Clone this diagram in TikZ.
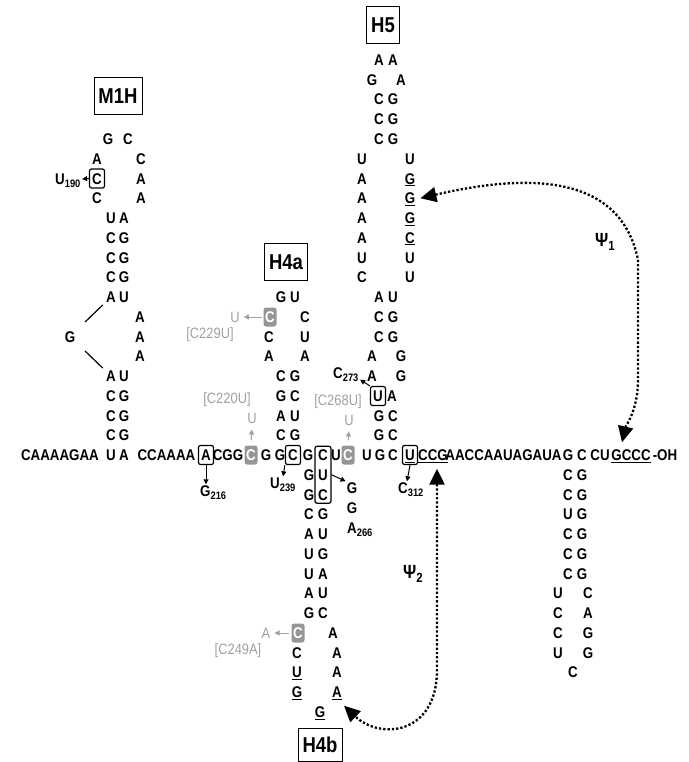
\documentclass[tikz,border=0pt]{standalone}
\usepackage{fontspec}
\setmainfont{Liberation Sans}[FakeStretch=0.86]
\usepackage{xcolor}
\usetikzlibrary{arrows.meta,fit}
\definecolor{mutgray}{RGB}{160,160,160}
\definecolor{boxgray}{RGB}{150,150,150}
\newcommand{\unt}[1]{\setbox0=\hbox{#1}\rlap{\rule[-2.2pt]{\wd0}{1.2pt}}\box0}

\begin{document}
\begin{tikzpicture}[x=1pt, y=-1pt,
  nt/.style={font=\bfseries\fontsize{15.5}{16}\selectfont, inner sep=1pt, text height=11pt, text depth=0pt},
  ntbox/.style={nt, draw, rounded corners=2pt, line width=1.2pt, minimum width=15pt, minimum height=19pt, inner sep=0pt},
  ntgray/.style={nt, fill=boxgray, text=white, rounded corners=2.5pt, minimum width=13pt, minimum height=19pt, inner sep=0pt},
  mut/.style={font=\fontsize{15}{16}\selectfont, text=mutgray, inner sep=1pt, text height=10.6pt, text depth=0pt},
  helix/.style={draw, line width=0.8pt, font=\bfseries\fontsize{21.5}{22}\selectfont, text height=15pt, text depth=0pt, minimum height=37pt, inner xsep=4.5pt},
  psilab/.style={font=\bfseries\fontsize{19}{20}\selectfont, inner sep=1pt},
  pt/.style={-{Triangle[length=5pt,width=5pt]}, line width=1pt},
  ptgray/.style={pt, draw=mutgray, fill=mutgray},
  psi/.style={line width=2.3pt, dash pattern=on 2.3pt off 2pt, {Triangle[length=16pt,width=15pt]}-{Triangle[length=16pt,width=15pt]}}]
  \useasboundingbox (0,0) rectangle (688,762);

  % helix labels
  \node[helix] (lm1h) at (118,96) {M1H};
  \node[helix] (lh4a) at (286,262) {H4a};
  \node[helix] (lh5) at (383,25) {H5};
  \node[helix, minimum height=33pt] (lh4b) at (320,744.5) {H4b};

  % main strand
  \node[nt] (tail5) at (60,455) {CAAAAGAA};
  \node[nt] (m1l0) at (111,455) {U};
  \node[nt] (m1r0) at (124,455) {A};
  \node[nt] (j1) at (166.5,455) {CCAAAA};
  \node[ntbox] (a216) at (206,455) {A};
  \node[nt] (j2) at (228,455) {CGG};
  \node[ntgray] (c220) at (251,455) {C};
  \node[nt] (j3) at (266,455) {G};
  \node[nt] (h4al0) at (280,455) {G};
  \node[ntbox] (c239) at (293,455) {C};
  \node[nt] (h4bl0) at (308,455) {G};
  \node[nt] (h4br0) at (323,455) {C};
  \node[nt] (j4) at (336,455) {U};
  \node[ntgray] (c268) at (348,455) {C};
  \node[nt] (j5) at (367,455) {U};
  \node[nt] (h5l0) at (380,455) {G};
  \node[nt] (h5r0) at (393,455) {C};
  \node[ntbox] (u312) at (410,455) {\unt{U}};
  \node[nt] (ccg) at (433,455) {\unt{CCG}};
  \node[nt] (j6) at (503.5,455) {AACCAAUAGAUA};
  \node[nt] (stl0) at (568,455) {G};
  \node[nt] (str0) at (582,455) {C};
  \node[nt] (j7) at (600,455) {CU};
  \node[nt] (gccc) at (631,455) {\unt{GCCC}};
  \node[nt] (oh) at (665,455) {-OH};

  % M1H
  \foreach \k/\a/\b in {1/C/G,2/C/G,3/C/G,4/A/U,8/A/U,9/C/G,10/C/G,11/C/G,12/U/A}{
    \node[nt] (m1l\k) at (111,{455-19.75*\k}) {\a};
    \node[nt] (m1r\k) at (124,{455-19.75*\k}) {\b};
  }
  \foreach \k in {5,6,7}
    \node[nt] (m1b\k) at (140,{455-19.75*\k}) {A};
  \node[nt] (m1g) at (70,336.5) {G};
  \foreach \k/\a/\b in {13/C/A,15/A/C}{
    \node[nt] (m1l\k) at (97,{455-19.75*\k}) {\a};
    \node[nt] (m1r\k) at (141,{455-19.75*\k}) {\b};
  }
  \node[ntbox] (c190) at (97,178.5) {C};
  \node[nt] (m1r14) at (141,178.5) {A};
  \node[nt] (m1l16) at (108,139) {G};
  \node[nt] (m1r16) at (128,139) {C};
  \node[nt, anchor=west] (u190) at (54,179) {U\textsubscript{190}};
  \draw[pt] (c190.west) -- (u190.east);
  \draw[line width=1.2pt, shorten <=12pt, shorten >=3pt] (m1g) -- (m1l8);
  \draw[line width=1.2pt, shorten <=12pt, shorten >=3pt] (m1g) -- (m1l4);

  % H4a
  \foreach \k/\a/\b in {1/C/G,2/A/U,3/G/C,4/C/G,8/G/U}{
    \node[nt] (h4al\k) at (281,{455-19.75*\k}) {\a};
    \node[nt] (h4ar\k) at (295,{455-19.75*\k}) {\b};
  }
  \foreach \k/\a/\b in {5/A/A,6/C/U}{
    \node[nt] (h4al\k) at (269,{455-19.75*\k}) {\a};
    \node[nt] (h4ar\k) at (305,{455-19.75*\k}) {\b};
  }
  \node[ntgray] (c229) at (270,317) {C};
  \node[nt] (h4ar7) at (305,317) {C};

  % H5
  \foreach \k/\a/\b in {1/G/C,2/G/C,6/C/G,7/C/G,8/A/U,16/C/G,17/C/G,18/C/G,20/A/A}{
    \node[nt] (h5l\k) at (379,{455-19.75*\k}) {\a};
    \node[nt] (h5r\k) at (393,{455-19.75*\k}) {\b};
  }
  \foreach \k/\a/\b in {4/A/G,5/A/G,19/G/A}{
    \node[nt] (h5l\k) at (372,{455-19.75*\k}) {\a};
    \node[nt] (h5r\k) at (401,{455-19.75*\k}) {\b};
  }
  \foreach \k/\a/\b in {9/C/U,10/U/U,11/A/\unt{C},12/A/\unt{G},13/A/\unt{G},14/A/\unt{G},15/U/U}{
    \node[nt] (h5l\k) at (362,{455-19.75*\k}) {\a};
    \node[nt] (h5r\k) at (410,{455-19.75*\k}) {\b};
  }
  \node[ntbox] (u273) at (378,396) {U};
  \node[nt] (h5r3) at (392,396) {A};
  \node[nt, anchor=west] (c273) at (332,373) {C\textsubscript{273}};
  \draw[pt] (u273.north west) -- (c273.south east);

  % H4b
  \foreach \k/\a/\b in {1/G/U,2/G/C,3/C/G,4/A/U,5/U/G,6/U/A,7/A/U,8/G/C}{
    \node[nt] (h4bl\k) at (309,{455+19.75*\k}) {\a};
    \node[nt] (h4br\k) at (323,{455+19.75*\k}) {\b};
  }
  \node[ntgray] (c249) at (298,633) {C};
  \node[nt] (h4br9) at (333,633) {A};
  \foreach \k/\a/\b in {10/C/A,11/\unt{U}/A,12/\unt{G}/\unt{A}}{
    \node[nt] (h4bl\k) at (297,{455+19.75*\k}) {\a};
    \node[nt] (h4br\k) at (337,{455+19.75*\k}) {\b};
  }
  \node[nt] (h4bl13) at (320,712) {\unt{G}};
  \node[draw, rounded corners=2pt, line width=1.2pt, inner xsep=2pt, inner ysep=2pt, fit=(h4br0)(h4br2)] (cuc) {};
  \node[nt] (g264) at (352,488) {G};
  \node[nt] (g265) at (352,508) {G};
  \node[nt, anchor=west] (a266) at (346,528) {A\textsubscript{266}};
  \draw[pt] (cuc.east) -- (g264.north west);

  % 3' stem
  \foreach \k/\a/\b in {1/C/G,2/C/G,3/U/G,4/C/G,5/C/G,6/C/G}{
    \node[nt] (stl\k) at (568,{455+19.75*\k}) {\a};
    \node[nt] (str\k) at (582,{455+19.75*\k}) {\b};
  }
  \foreach \k/\a/\b in {7/U/C,8/C/A,9/C/G,10/U/G}{
    \node[nt] (stl\k) at (558,{455+19.75*\k}) {\a};
    \node[nt] (str\k) at (588,{455+19.75*\k}) {\b};
  }
  \node[nt] (st11) at (573,672) {C};

  % point changes
  \node[nt, anchor=west] (g216) at (199,491) {G\textsubscript{216}};
  \node[nt, anchor=west] (u239) at (269,483) {U\textsubscript{239}};
  \node[nt, anchor=west] (c312) at (397,488) {C\textsubscript{312}};
  \draw[pt] (a216.south) -- (a216.south |- g216.north);
  \draw[pt] (c239.south west) -- (u239.north);
  \draw[pt] (u312.south) -- ([xshift=-4pt]c312.north);

  % mutants
  \node[mut] (u220) at (252,418) {U};
  \node[mut] (u268) at (349,420) {U};
  \node[mut] (u229) at (235,317) {U};
  \node[mut] (a249) at (266,633) {A};
  \node[mut] (l220) at (227,398) {[C220U]};
  \node[mut] (l268) at (338,400) {[C268U]};
  \node[mut] (l229) at (210,333) {[C229U]};
  \node[mut] (l249) at (238,649) {[C249A]};
  \draw[ptgray, shorten <=5pt, shorten >=5pt] (c220.north) -- (u220.south);
  \draw[ptgray, shorten <=5pt, shorten >=5pt] (c268.north) -- (u268.south);
  \draw[ptgray, shorten <=1.5pt, shorten >=3pt] (c229.west) -- (u229.east);
  \draw[ptgray, shorten <=2.5pt, shorten >=3pt] (c249.west) -- (a249.east);

  % pseudoknots
  \draw[psi] ([xshift=4pt]h5r13.east) .. controls (520,175) and (620,170) .. (638,260)
    -- (638,380) .. controls (638,410) and (626,425) .. ([xshift=-9pt,yshift=6pt]gccc.north);
  \draw[psi] ([xshift=4pt,yshift=-7pt]ccg.south) -- (437,670) .. controls (437,735) and (380,740)
    .. ([xshift=1pt,yshift=-7pt]h4br12.south east);
  \node[psilab, anchor=west] (psi1) at (594,242) {Ψ\textsubscript{1}};
  \node[psilab, anchor=west] (psi2) at (402,574) {Ψ\textsubscript{2}};
\end{tikzpicture}
\end{document}
